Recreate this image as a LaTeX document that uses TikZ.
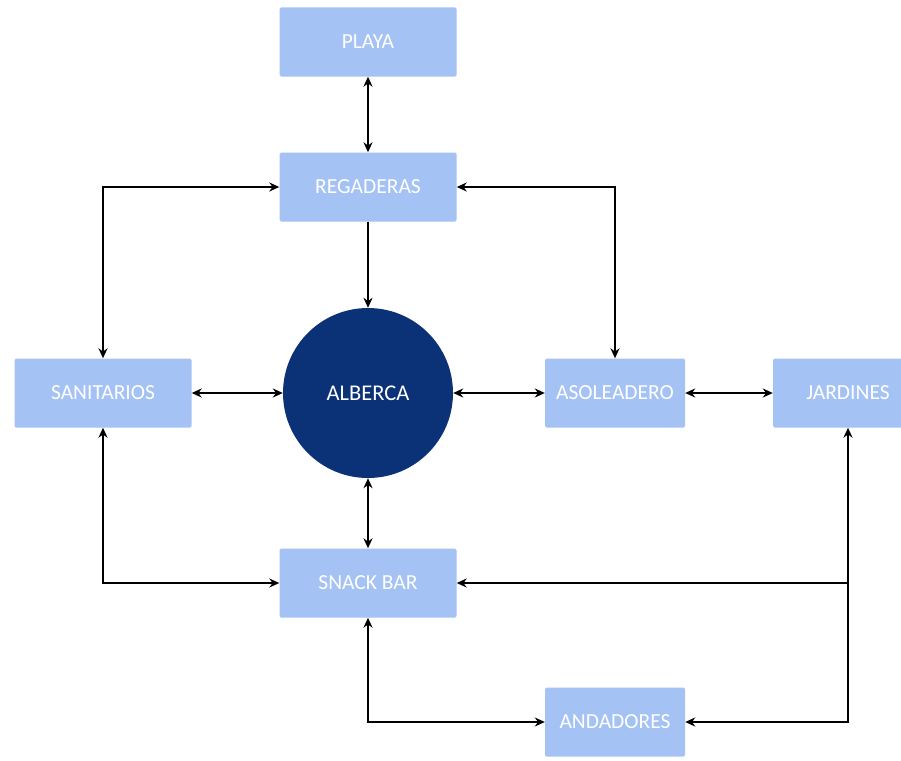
\documentclass[tikz,border=0pt]{standalone}
\usepackage{fontspec}
\setmainfont{Carlito}
\usetikzlibrary{arrows.meta}
\definecolor{areablue}{HTML}{A4C2F4}
\definecolor{poolblue}{HTML}{0B3277}
\begin{document}
\begin{tikzpicture}[x=1pt,y=-1pt,
	area/.style={fill=areablue, minimum width=177pt, minimum height=69pt, inner sep=0pt,
		rounded corners=1.5pt, text=white, font=\fontsize{21.5}{25}\selectfont},
	pool/.style={circle, fill=poolblue, minimum size=170pt, inner sep=0pt,
		text=white, font=\fontsize{22.5}{26}\selectfont},
	link/.style={line width=1.8pt, >={Stealth[length=10pt,width=9pt]}}]
		\useasboundingbox (0,0) rectangle (901,760);
		\clip (0,0) rectangle (901,760);
		% zonas
		\node[area] (playa) at (368,42) {PLAYA};
		\node[area] (regaderas) at (368,187) {REGADERAS};
		\node[area] (sanitarios) at (103,393) {SANITARIOS};
		\node[pool] (alberca) at (368,393) {ALBERCA};
		\node[area, minimum width=140pt] (asoleadero) at (615,393) {ASOLEADERO};
		\node[area, minimum width=150pt] (jardines) at (848,393) {JARDINES};
		\node[area] (snack) at (368,583) {SNACK BAR};
		\node[area, minimum width=140pt] (andadores) at (615,722) {ANDADORES};
		\coordinate (fork) at (jardines.south |- snack.east);
		% conexiones
		\draw[link, <->] (playa) -- (regaderas);
		\draw[link, ->] (regaderas) -- (alberca);
		\draw[link, <->] (regaderas.west) -| (sanitarios.north);
		\draw[link, <->] (regaderas.east) -| (asoleadero.north);
		\draw[link, <->] (sanitarios) -- (alberca);
		\draw[link, <->] (alberca) -- (asoleadero);
		\draw[link, <->] (asoleadero) -- (jardines);
		\draw[link, <->] (alberca) -- (snack);
		\draw[link, <->] (sanitarios.south) |- (snack.west);
		\draw[link, <->] (snack.south) |- (andadores.west);
		\draw[link, <->] (jardines.south) |- (andadores.east);
		\draw[link, ->] (fork) -- (snack.east);
\end{tikzpicture}
\end{document}
